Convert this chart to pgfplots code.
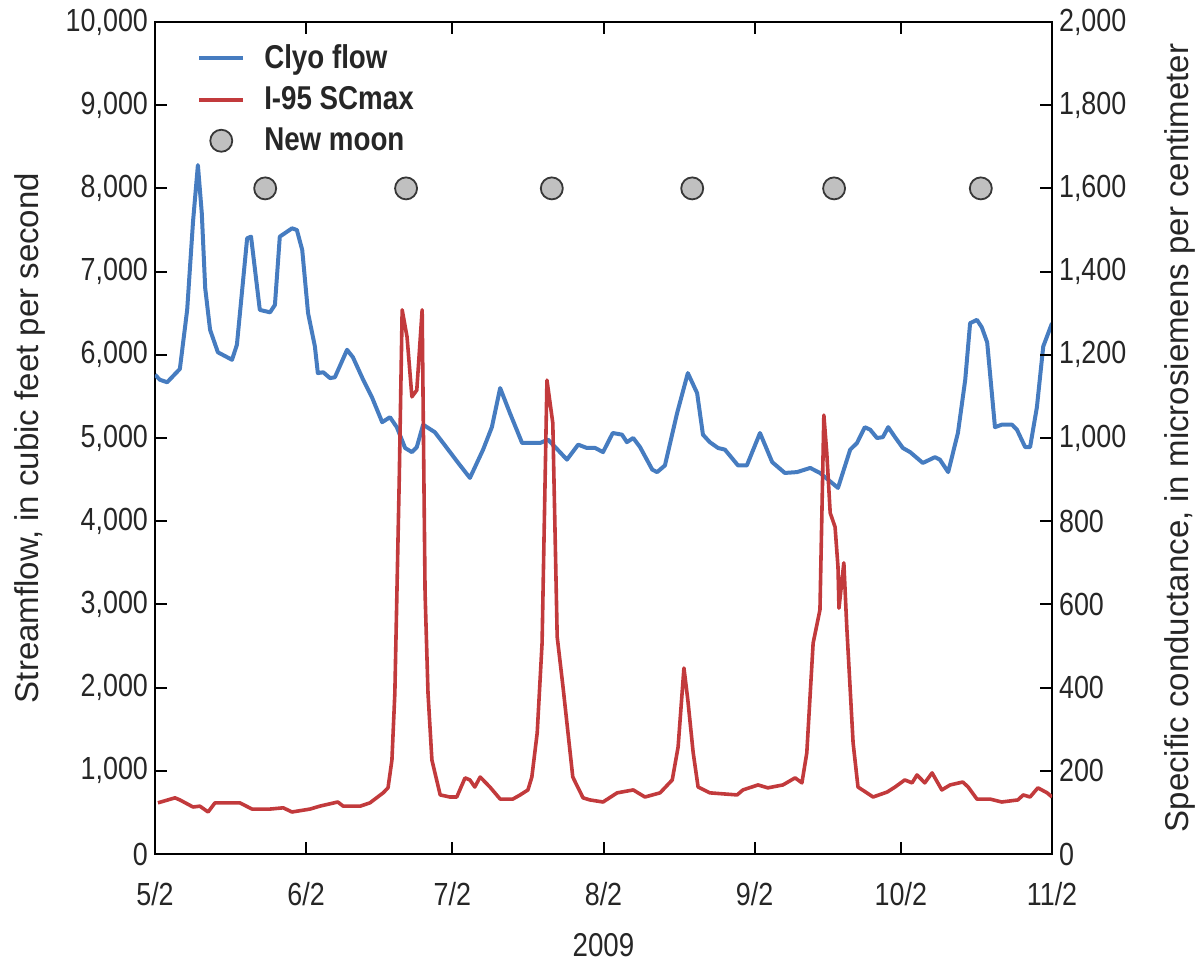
\documentclass[border=0pt]{standalone}
\usepackage{fontspec}
\setmainfont{Liberation Sans}
\newfontfamily\cnd{Liberation Sans}[FakeStretch=0.84]
\usepackage{pgfplots}
\pgfplotsset{compat=1.18}
\definecolor{flowblue}{RGB}{70,124,192}
\definecolor{scred}{RGB}{194,58,60}
\definecolor{moongray}{RGB}{192,192,192}
\definecolor{moonedge}{RGB}{55,55,55}
\pgfplotsset{
  linelegend/.style={legend image code/.code={\draw[##1] (0pt,0pt) -- (22pt,0pt); \path (29.5pt,0pt);}},
  moonlegend/.style={legend image code/.code={\draw[##1] plot coordinates {(11pt,0pt)}; \path (29.5pt,0pt);}},
}
\pgfplotstableread{
d v
0 5760
1.0 5700
2.5 5670
5.1 5830
6.6 6540
7.8 7600
8.8 8280
9.6 7700
10.3 6800
11.3 6300
12.9 6030
15.8 5940
16.8 6120
18.9 7400
19.7 7420
21.5 6540
23.6 6510
24.6 6600
25.6 7420
28.1 7520
29.1 7500
30.2 7260
31.4 6500
32.8 6100
33.4 5780
34.5 5790
35.9 5720
36.9 5730
39.4 6060
40.6 5970
42.7 5700
44.5 5490
46.6 5190
48.2 5250
49.6 5130
51.3 4880
52.7 4830
53.7 4890
55.0 5160
57.4 5070
59.1 4940
62.2 4700
64.6 4520
67.3 4860
69.1 5130
70.8 5600
72.8 5300
75.3 4940
79.0 4940
80.6 4980
82.1 4890
84.5 4740
86.8 4920
88.6 4880
90.3 4880
91.9 4830
93.9 5060
95.8 5040
96.8 4950
98.1 5000
99.5 4890
102.0 4620
103.0 4590
104.6 4670
107.1 5300
109.3 5780
111.2 5540
112.4 5040
113.8 4950
115.5 4880
116.9 4860
119.6 4670
121.4 4670
124.1 5060
126.6 4710
129.2 4580
131.7 4590
134.4 4640
136.4 4580
140.1 4400
142.6 4860
144.0 4940
145.6 5130
146.7 5100
148.1 5000
149.3 5010
150.4 5130
151.8 5010
153.4 4880
154.9 4830
157.5 4700
160.0 4770
161.0 4740
162.7 4590
164.7 5060
166.2 5700
167.2 6380
168.6 6420
169.6 6330
170.7 6150
172.3 5130
173.7 5160
175.8 5160
176.8 5100
178.5 4890
179.5 4890
180.9 5370
182.2 6100
184 6380
}\flowtable
\pgfplotstableread{
d v
0.6 123
4.1 135
5.1 130
7.8 113
9.2 115
10.9 101
12.3 123
17.4 123
19.9 108
23.6 108
26.3 111
28.1 101
31.8 108
33.8 115
37.5 125
38.6 115
42.1 115
44.1 123
46.8 147
47.8 159
48.6 226
49.2 387
50.1 900
50.7 1308
51.7 1243
52.7 1099
53.7 1115
54.8 1308
55.4 627
56.0 387
56.8 226
58.5 142
60.5 137
61.9 137
63.6 183
64.6 178
65.6 161
66.7 185
68.7 161
70.8 132
73.4 132
74.9 142
76.5 154
77.3 185
78.4 291
79.4 507
80.4 1139
81.6 1036
82.5 522
83.7 401
85.7 185
87.8 135
89.2 130
91.9 125
94.8 147
98.1 154
100.5 137
103.6 147
106.1 178
107.3 257
108.5 447
109.3 370
110.4 243
111.4 161
113.8 147
119.4 142
120.6 154
123.7 166
125.7 159
128.8 166
131.3 183
132.7 171
133.7 243
135.0 507
136.4 587
137.2 1055
137.8 964
138.5 820
139.5 786
140.1 690
140.3 591
141.3 700
141.9 546
143.2 267
144.2 161
147.3 137
150.2 149
151.8 161
153.8 178
155.3 171
156.3 190
157.9 171
159.4 195
161.4 154
163.1 166
165.7 173
166.8 161
168.6 132
171.3 132
173.7 125
177.0 130
178.1 142
179.5 137
181.1 159
183.0 147
184 137
}\sctable
\pgfplotstableread{
d v
22.6 8000
51.5 8000
81.4 8000
110.2 8000
139.3 8000
169.4 8000
}\moontable
\begin{document}
\begin{tikzpicture}
\pgfplotsset{
  common/.style={
    scale only axis, width=448.5pt, height=416pt,
    xmin=0, xmax=184,
    tick align=inside,
    major tick length=6pt,
    every tick/.style={black, line width=1pt},
    scaled y ticks=false,
    /pgf/number format/.cd, 1000 sep={,}, assume math mode=true, /pgfplots/.cd,
    ticklabel style={font=\cnd\fontsize{16}{19}\selectfont, text=black!85},
  }
}
\begin{axis}[common, name=ax1,
  ymin=0, ymax=10000,
  axis line style={line width=1pt},
  xtick={0,31,61,92,123,153,184},
  xticklabels={5/2,6/2,7/2,8/2,9/2,10/2,11/2},
  xtick pos=both, xticklabel pos=bottom,
  ytick={0,1000,...,10000}, ytick pos=left,
  xticklabel style={yshift=-10.5pt},
  xlabel={2009},
  xlabel style={font=\cnd\fontsize{16.5}{19}\selectfont, text=black!85, at={(axis description cs:0.5,-0.109)}, anchor=center, inner sep=0pt},
  ylabel={Streamflow, in cubic feet per second},
  ylabel style={font=\fontsize{16.5}{19}\selectfont, text=black!85, at={(axis description cs:-0.139,0.5)}, anchor=center, inner sep=0pt},
  legend style={draw=none, fill=none, at={(axis description cs:0.040,0.983)}, anchor=north west,
    font=\cnd\bfseries\fontsize{16.5}{19}\selectfont, text=black!85, row sep=3.6pt},
  legend cell align=left,
]
\addplot[flowblue, line width=2pt, line join=round, linelegend] table[x=d,y=v]{\flowtable};
\addlegendentry{Clyo flow}
\addlegendimage{scred, line width=2pt, linelegend}
\addlegendentry{I-95 SCmax}
\addplot[only marks, mark=*, mark size=5.5pt, mark options={fill=moongray, draw=moonedge, line width=0.9pt}, moonlegend]
  table[x=d,y=v]{\moontable};
\addlegendentry{New moon}
\end{axis}
\begin{axis}[common,
  ymin=0, ymax=2000,
  axis x line=none, axis y line*=right,
  axis line style={line width=1pt, -},
  ytick={0,200,...,2000},
  tick align=inside,
  ylabel={Specific conductance, in microsiemens per centimeter},
  ylabel style={font=\fontsize{16.5}{19}\selectfont, text=black!85, at={(axis description cs:1.143,0.5)}, anchor=center, inner sep=0pt},
]
\addplot[scred, line width=1.8pt, line join=round] table[x=d,y=v]{\sctable};
\end{axis}
\path ([xshift=-77.5pt,yshift=-56pt]ax1.south west) rectangle ([xshift=72pt,yshift=11pt]ax1.north east);
\end{tikzpicture}
\end{document}
